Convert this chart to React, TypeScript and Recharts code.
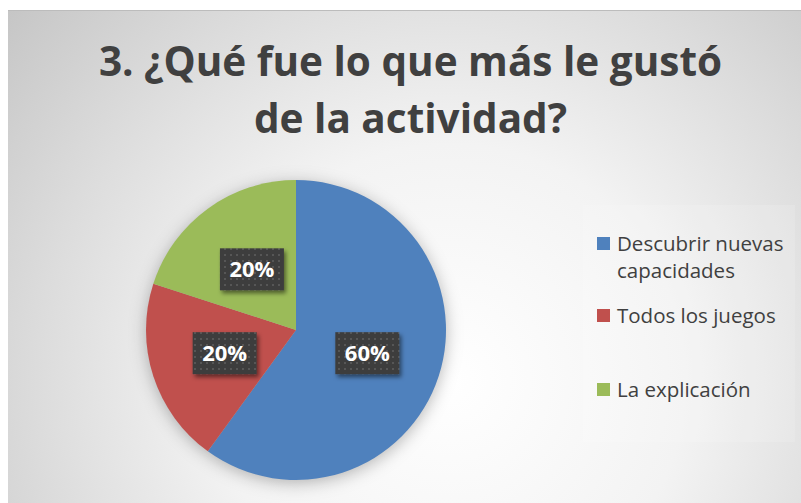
import React from 'react';
import { PieChart, Pie, Cell, Legend } from 'recharts';

// ---- data ----
const categories = ['Descubrir nuevas capacidades', 'Todos los juegos', 'La explicación'];
const shares = [60, 20, 20];
const titleLines = ['3. ¿Qué fue lo que más le gustó', 'de la actividad?'];

// ---- styles ----
const COLORS = ['#4F81BD', '#C0504D', '#9BBB59'];
const W = 801;
const H = 503;
const FONT = '"Open Sans", "Noto Sans", sans-serif';
const RAD = Math.PI / 180;
const legendBaselines = [251, 323, 397];

const data = categories.map((name, i) => ({ name, value: shares[i] }));

function renderLabel(props: any) {
  const { cx, cy, midAngle, outerRadius, percent, index } = props;
  const r = outerRadius * 0.5;
  const x = cx + r * Math.cos(-midAngle * RAD);
  const y = cy + r * Math.sin(-midAngle * RAD);
  return (
    <g key={`lbl-${index}`}>
      <rect x={x - 32} y={y - 21} width={64} height={42} fill="url(#lblDots)" filter="url(#lblShadow)" />
      <text
        x={x}
        y={y + 8}
        textAnchor="middle"
        fontFamily={FONT}
        fontWeight={700}
        fontSize={22}
        fill="#ffffff"
      >
        {`${Math.round(percent * 100)}%`}
      </text>
    </g>
  );
}

function LegendContent(props: any) {
  const payload = (props.payload || []).filter((e: any) => e && e.type !== 'none');
  const items = categories.map((name, i) => {
    const found = payload.find((e: any) => e.value === name);
    return { name, color: (found && found.color && found.color !== '#000000') ? found.color : COLORS[i] };
  });
  return (
    <div style={{ position: 'relative', width: W, height: H, pointerEvents: 'none' }}>
      {items.map((entry, i) => (
        <React.Fragment key={`leg-${i}`}>
          <div
            style={{
              position: 'absolute',
              left: 597,
              top: legendBaselines[i] - 14,
              width: 13,
              height: 13,
              background: COLORS[i],
            }}
          />
          <div
            style={{
              position: 'absolute',
              left: 617,
              top: legendBaselines[i] - 21.45,
              width: 178,
              fontFamily: FONT,
              fontSize: 20.5,
              lineHeight: '27px',
              color: '#404040',
              whiteSpace: 'normal',
              textAlign: 'left',
            }}
          >
            {entry.name}
          </div>
        </React.Fragment>
      ))}
    </div>
  );
}

export default function App() {
  return (
    <div style={{ position: 'absolute', left: 0, top: 0, width: W, height: H, background: '#ffffff', overflow: 'hidden' }}>
      <style>{`.pie-shadow { filter: url(#pieShadow); }`}</style>
      <svg width={W} height={H} style={{ position: 'absolute', left: 0, top: 0 }}>
        <defs>
          <radialGradient id="bgGrad" gradientUnits="userSpaceOnUse" cx={450} cy={380} r={590}>
            <stop offset="0" stopColor="#ffffff" />
            <stop offset="0.4" stopColor="#f3f3f3" />
            <stop offset="0.7" stopColor="#dcdcdc" />
            <stop offset="1" stopColor="#c4c4c4" />
          </radialGradient>
          <pattern id="lblDots" width="6" height="6" patternUnits="userSpaceOnUse">
            <rect width="6" height="6" fill="#3c3c3c" />
            <rect x="2" y="2" width="2" height="2" fill="#565656" />
          </pattern>
          <filter id="lblShadow" x="-30%" y="-30%" width="170%" height="180%">
            <feDropShadow dx="2" dy="3" stdDeviation="2" floodColor="#000000" floodOpacity="0.5" />
          </filter>
          <filter id="pieShadow" x="-20%" y="-20%" width="140%" height="140%">
            <feGaussianBlur stdDeviation="6" />
          </filter>
        </defs>
        <rect x={8} y={10} width={W - 8} height={H - 10} fill="url(#bgGrad)" />
        <line x1={8} y1={10.5} x2={W} y2={10.5} stroke="#bcbcbc" strokeWidth={1} />
        <rect x={583} y={205} width={212} height={237} fill="#ffffff" opacity={0.14} />
        {titleLines.map((t, i) => (
          <text
            key={`t-${i}`}
            x={410.5}
            y={76 + i * 57}
            textAnchor="middle"
            fontFamily={FONT}
            fontWeight={700}
            fontSize={40.5}
            fill="#404040"
          >
            {t}
          </text>
        ))}
      </svg>
      <div style={{ position: 'absolute', left: 0, top: 0 }}>
        <PieChart width={W} height={H} margin={{ top: 0, right: 0, bottom: 0, left: 0 }}>
          <Pie
            data={data}
            dataKey="value"
            nameKey="name"
            cx={296}
            cy={333}
            outerRadius={150}
            startAngle={90}
            endAngle={-270}
            stroke="none"
            fill="#000000"
            className="pie-shadow"
            legendType="none"
            label={false}
            labelLine={false}
            isAnimationActive={false}
          >
            {data.map((d, i) => (
              <Cell key={`s-${i}`} fill="#000000" fillOpacity={0.28} stroke="none" />
            ))}
          </Pie>
          <Pie
            data={data}
            dataKey="value"
            nameKey="name"
            cx={296}
            cy={330}
            outerRadius={150}
            startAngle={90}
            endAngle={-270}
            stroke="none"
            label={renderLabel}
            labelLine={false}
            isAnimationActive={false}
          >
            {data.map((d, i) => (
              <Cell key={`c-${i}`} fill={COLORS[i]} stroke="none" />
            ))}
          </Pie>
          <Legend
            layout="vertical"
            align="center"
            verticalAlign="middle"
            content={LegendContent}
            wrapperStyle={{ position: 'absolute', left: 0, top: 0, width: W, height: H, pointerEvents: 'none' }}
          />
        </PieChart>
      </div>
    </div>
  );
}
